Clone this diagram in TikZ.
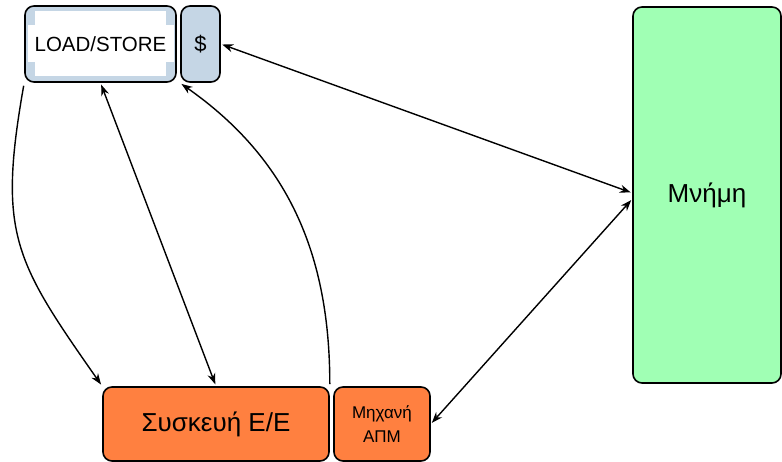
\documentclass[tikz,border=0pt]{standalone}
\usepackage{fontspec}
\setmainfont{Liberation Sans}
\usetikzlibrary{arrows.meta}
\usepackage{xcolor}
\definecolor{lsblue}{RGB}{197,214,229}
\definecolor{memgreen}{RGB}{160,255,180}
\definecolor{devorange}{RGB}{255,128,64}

\begin{document}
\begin{tikzpicture}[x=1pt, y=1pt,
  box/.style={draw=black, line width=1.6pt, rounded corners=9pt, inner sep=0pt, align=center},
  link/.style={black, line width=1.4pt, >={Stealth[length=11pt, width=8pt]}}]
\useasboundingbox (0,0) rectangle (782,462);
\node[box, fill=lsblue, minimum width=151, minimum height=76, font=\fontsize{20.5}{24}\selectfont,
  path picture={
   \fill[white, sharp corners] ([xshift=10, yshift=6]path picture bounding box.south west) rectangle ([xshift=-10, yshift=-5]path picture bounding box.north east);
   \fill[white, sharp corners] ([xshift=3, yshift=20]path picture bounding box.south west) rectangle ([xshift=-2, yshift=-19]path picture bounding box.north east);
  }] (ls) at (100.5,418) {LOAD/STORE};
\node[box, fill=lsblue, minimum width=39, minimum height=76, font=\fontsize{22}{26}\selectfont] (cache) at (200.5,418) {\$};
\node[box, fill=memgreen, minimum width=148, minimum height=376, font=\fontsize{26}{30}\selectfont] (mem) at (707,267) {Μνήμη};
\node[box, fill=devorange, minimum width=226, minimum height=74, font=\fontsize{26}{30}\selectfont] (dev) at (216,38) {Συσκευή Ε/Ε};
\node[box, fill=devorange, minimum width=96, minimum height=74, font=\fontsize{17}{24}\selectfont] (dma) at (382,38) {Μηχανή\\ΑΠΜ};

\draw[link, ->, shorten <=3pt, shorten >=2pt] (ls.south west) to[out=-100, in=125, looseness=1.25] (dev.north west);
\draw[link, <->, shorten <=2pt, shorten >=2pt] (ls.south) -- (dev.north);
\draw[link, ->, shorten <=2pt, shorten >=2pt] (dev.north east) to[out=90, in=-35] ([xshift=3]ls.south east);
\draw[link, <->, shorten <=1.5pt, shorten >=1.5pt] (cache.east) -- ([yshift=2]mem.west);
\draw[link, <->, shorten <=1.5pt, shorten >=1.5pt] (dma.east) -- ([yshift=-4]mem.west);
\end{tikzpicture}
\end{document}
